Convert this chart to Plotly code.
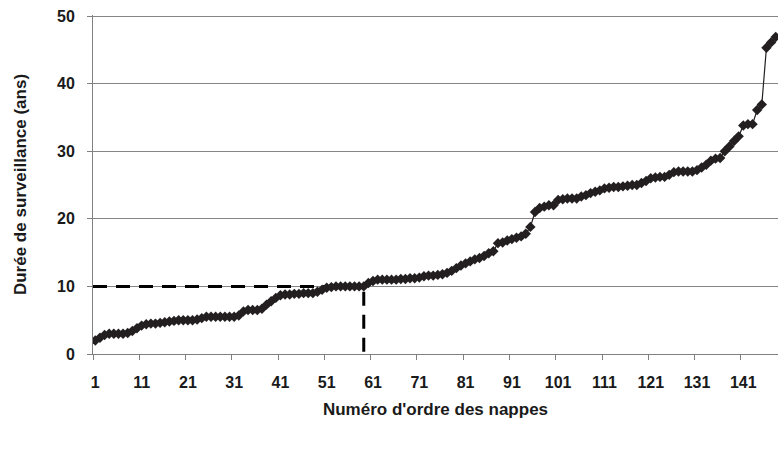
import plotly.graph_objects as go

# sorted monitoring durations (years), one per aquifer
durees = [
    2.0, 2.4, 2.8, 3.0, 3.0, 3.0, 3.0, 3.1, 3.4, 3.8,
    4.2, 4.4, 4.5, 4.5, 4.6, 4.7, 4.8, 4.9, 5.0, 5.0,
    5.0, 5.0, 5.1, 5.3, 5.5, 5.5, 5.5, 5.5, 5.5, 5.5,
    5.5, 5.7, 6.3, 6.5, 6.5, 6.5, 6.7, 7.3, 7.8, 8.3,
    8.7, 8.8, 8.8, 8.9, 8.9, 9.0, 9.0, 9.0, 9.2, 9.5,
    9.8, 9.9, 10.0, 10.0, 10.0, 10.0, 10.0, 10.0, 10.0, 10.5,
    10.8, 11.0, 11.0, 11.0, 11.0, 11.0, 11.1, 11.1, 11.2, 11.2,
    11.3, 11.5, 11.6, 11.6, 11.7, 11.8, 12.0, 12.3, 12.7, 13.1,
    13.4, 13.7, 14.0, 14.2, 14.5, 14.9, 15.2, 16.4, 16.5, 16.8,
    17.0, 17.2, 17.4, 17.8, 18.8, 21.0, 21.6, 21.8, 22.0, 22.0,
    22.8, 22.9, 23.0, 23.0, 23.0, 23.3, 23.5, 23.8, 24.0, 24.2,
    24.5, 24.6, 24.7, 24.7, 24.8, 24.9, 25.0, 25.0, 25.3, 25.6,
    26.0, 26.1, 26.2, 26.2, 26.5, 26.9, 27.0, 27.0, 27.0, 27.0,
    27.2, 27.6, 28.0, 28.6, 28.9, 29.0, 30.0, 30.7, 31.5, 32.2,
    33.8, 34.0, 34.0, 36.1, 36.9, 45.3, 46.1, 46.9,
]
numeros = list(range(1, len(durees) + 1))

# 10-year threshold marker
seuil_x = 59
seuil_y = 10

x_ticks = list(range(1, 142, 10))
y_ticks = [0, 10, 20, 30, 40, 50]

FONT = "Liberation Sans, Arial, sans-serif"

fig = go.Figure()
fig.add_trace(go.Scatter(
    x=[0.5, seuil_x, seuil_x], y=[seuil_y, seuil_y, 0],
    mode="lines", line=dict(color="black", width=3, dash="14px,9px"),
    hoverinfo="skip", showlegend=False,
))
fig.add_trace(go.Scatter(
    x=numeros, y=durees, mode="lines+markers",
    line=dict(color="#231f20", width=1.2),
    marker=dict(symbol="diamond", size=8, color="#231f20"),
    showlegend=False,
))

fig.update_layout(
    width=780, height=452,
    margin=dict(l=93, r=2, t=15, b=98),
    plot_bgcolor="white", paper_bgcolor="white",
    font=dict(family=FONT, color="#1a1a1a"),
)
fig.update_xaxes(
    range=[0.5, len(durees) + 0.5],
    tickmode="array", tickvals=x_ticks, ticks="",
    ticklabelstandoff=14, ticklabeloverflow="allow",
    tickfont=dict(size=16, family=FONT, weight="bold"),
    minor=dict(tickmode="array", tickvals=[v - 0.5 for v in x_ticks],
               ticks="outside", ticklen=5, tickcolor="#808080"),
    showgrid=False, zeroline=False,
    showline=True, linecolor="#808080", linewidth=1,
    title=dict(text="<b>Numéro d'ordre des nappes</b>", font=dict(size=17), standoff=12),
)
# top a hair above 50 so the 50 gridline is not dropped at the edge
fig.update_yaxes(
    range=[0, 50.15],
    tickmode="array", tickvals=y_ticks,
    ticks="outside", ticklen=5, tickcolor="#808080",
    ticklabelstandoff=9, ticklabeloverflow="allow",
    tickfont=dict(size=16, family=FONT, weight="bold"),
    showgrid=True, gridcolor="#858585", gridwidth=1,
    zeroline=False,
    showline=True, linecolor="#808080", linewidth=1,
    title=dict(text="<b>Durée de surveillance (ans)</b>", font=dict(size=17), standoff=26),
)

# drop the default page margin so the figure fills the window exactly
fig.write_html(
    "out.html",
    config={"displayModeBar": False},
    post_script="document.body.style.margin = '0';",
)
